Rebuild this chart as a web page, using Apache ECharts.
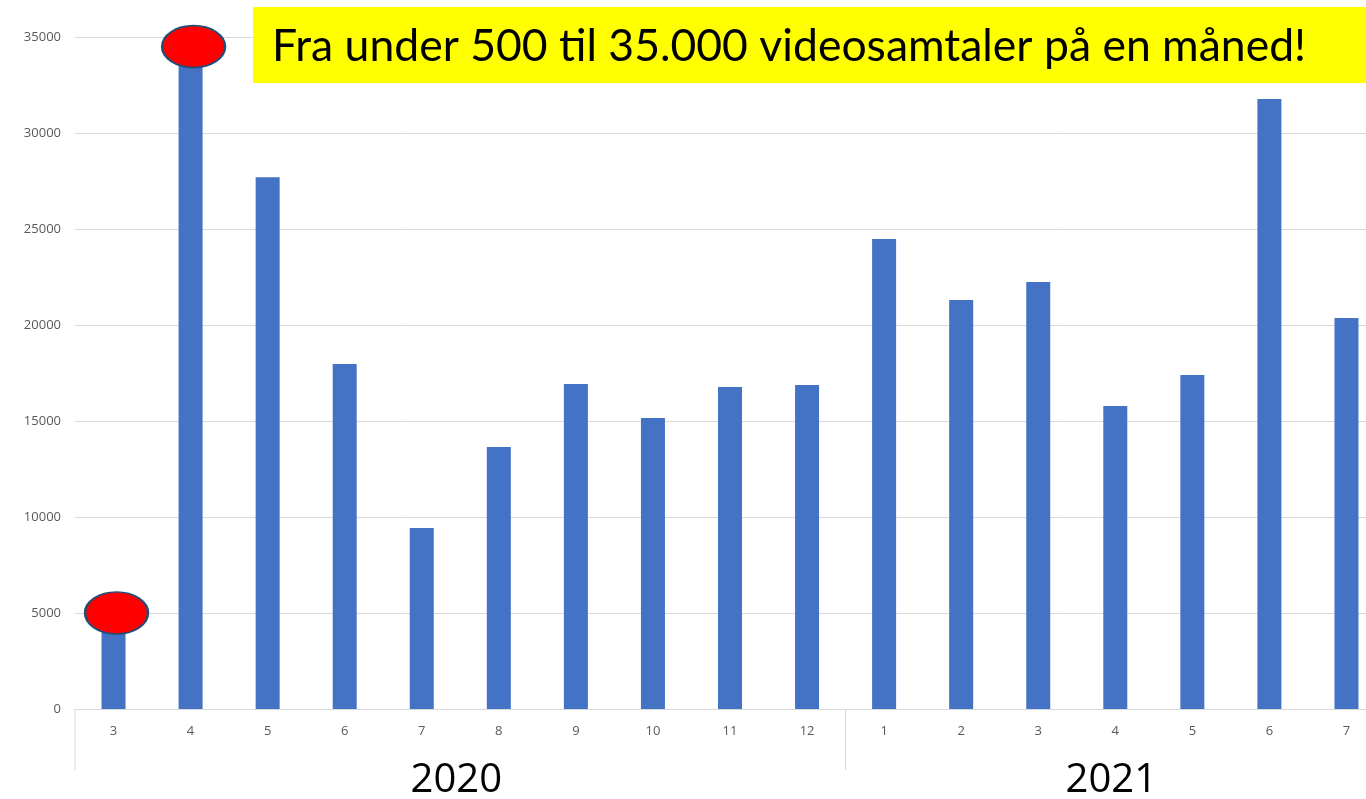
<!DOCTYPE html>
<html>
<head>
<meta charset="utf-8">
<title>Videosamtaler per måned</title>
<script src="https://cdn.jsdelivr.net/npm/echarts@6/dist/echarts.min.js"></script>
<style>
  html, body { margin: 0; padding: 0; background: #fff; overflow: hidden; }
  #main { width: 1385px; height: 799px; }
</style>
</head>
<body>
<div id="main"></div>
<script>
// måneder (mars 2020 - juli 2021)
const months = ['3', '4', '5', '6', '7', '8', '9', '10', '11', '12', '1', '2', '3', '4', '5', '6', '7']
// antall videosamtaler per måned
const calls = [4300, 34500, 27700, 17970, 9430, 13650, 16930, 15160, 16770, 16880, 24480, 21300, 22240, 15780, 17400, 31770, 20370]
// år-grupper på x-aksen (første og siste indeks)
const yearNames = ['2020', '2021']
const yearStart = [0, 10]
const yearEnd = [9, 16]
// røde markeringer: [indeks, verdi]
const highlights = [[0, 5000], [1, 34500]]
const headline = 'Fra under 500 til 35.000 videosamtaler på en måned!'

const chart = echarts.init(document.getElementById('main'))

const ellipse = 'path://M0,50A50,50,0,1,1,100,50A50,50,0,1,1,0,50Z'

const option = {
  animation: false,
  grid: { left: 75, right: 0, top: 37, bottom: 90 },
  xAxis: {
    type: 'category',
    data: months,
    axisLine: { lineStyle: { color: '#d9d9d9' } },
    axisTick: { show: false },
    axisLabel: { color: '#595959', fontSize: 13, margin: 16, fontFamily: 'Open Sans' }
  },
  yAxis: {
    type: 'value',
    min: 0,
    max: 35000,
    interval: 5000,
    axisLine: { show: false },
    axisTick: { show: false },
    axisLabel: {
      color: '#595959',
      fontSize: 13,
      margin: 14,
      fontFamily: 'Open Sans',
      formatter: v => String(v)
    },
    splitLine: { lineStyle: { color: '#d9d9d9', width: 1 } }
  },
  series: [{
    type: 'bar',
    data: calls,
    barWidth: 24,
    itemStyle: { color: '#4472c4' },
    markPoint: {
      symbol: ellipse,
      symbolSize: [63, 42],
      symbolOffset: [3, 0],
      itemStyle: { color: '#ff0000', borderColor: '#1f4e79', borderWidth: 2 },
      label: { show: false },
      data: highlights.map(h => ({ coord: h }))
    }
  }]
}
chart.setOption(option)

// årstall og skillelinjer under aksen
const c0 = chart.convertToPixel({ xAxisIndex: 0 }, 0)
const c1 = chart.convertToPixel({ xAxisIndex: 0 }, 1)
const band = c1 - c0
const axisY = chart.convertToPixel({ yAxisIndex: 0 }, 0)
const graphics = []
yearNames.forEach((name, i) => {
  const left = chart.convertToPixel({ xAxisIndex: 0 }, yearStart[i]) - band / 2
  const right = chart.convertToPixel({ xAxisIndex: 0 }, yearEnd[i]) + band / 2
  graphics.push({
    type: 'line',
    shape: { x1: left, y1: axisY, x2: left, y2: axisY + 61 },
    style: { stroke: '#d9d9d9', lineWidth: 1 }
  })
  graphics.push({
    type: 'text',
    x: (left + right) / 2 - 4,
    y: axisY + 72,
    style: {
      text: name,
      fill: '#000',
      font: '40px "Open Sans"',
      textAlign: 'center',
      textVerticalAlign: 'middle'
    }
  })
})
// gul overskrift
graphics.push({
  type: 'rect',
  shape: { x: 253, y: 7, width: 1113, height: 76 },
  style: { fill: '#ffff00' }
})
graphics.push({
  type: 'text',
  x: 272,
  y: 47,
  style: {
    text: headline,
    fill: '#000',
    font: '44.5px Lato',
    textVerticalAlign: 'middle'
  }
})
chart.setOption({ graphic: graphics })
</script>
</body>
</html>
